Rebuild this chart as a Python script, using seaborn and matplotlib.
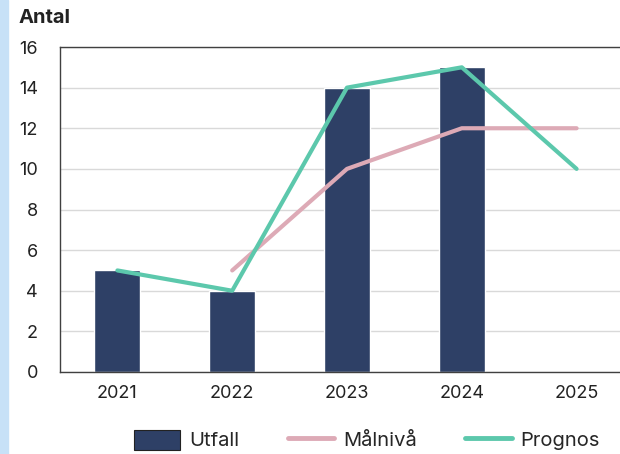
import matplotlib
matplotlib.use('Agg')
import matplotlib.pyplot as plt
import seaborn as sns
import pandas as pd
from matplotlib.patches import Rectangle
from matplotlib.lines import Line2D

# Data
years = ['2021', '2022', '2023', '2024', '2025']
utfall = [5, 4, 14, 15, None]
malniva = [None, 5, 10, 12, 12]
prognos = [5, 4, 14, 15, 10]

df = pd.DataFrame({'År': years, 'Utfall': utfall, 'Målnivå': malniva, 'Prognos': prognos})

sns.set_style('white')
plt.rcParams['font.family'] = ['Inter', 'DejaVu Sans']

fig = plt.figure(figsize=(6.2, 4.54), dpi=100)
ax = fig.add_axes([60 / 620, 82 / 454, 574 / 620, 325 / 454])

# light blue stripe along the left edge
fig.patches.append(Rectangle((0, 0), 8 / 620, 1, transform=fig.transFigure,
                             color='#C7E1F7', zorder=0))

bar_color = '#2E4066'
pink = '#DDAAB6'
teal = '#5CC8AC'

sns.barplot(data=df.dropna(subset=['Utfall']), x='År', y='Utfall', order=years,
            color=bar_color, width=0.4, saturation=1, ax=ax, zorder=2)
x_pos = list(range(len(years)))
ax.plot(x_pos, df['Målnivå'], color=pink, lw=3, solid_capstyle='round', zorder=3)
ax.plot(x_pos, df['Prognos'], color=teal, lw=3, solid_capstyle='round', zorder=4)

ax.set_xlim(-0.5, 4.5)
ax.set_ylim(0, 16)
ax.set_yticks(range(0, 17, 2))
ax.yaxis.grid(True, color='#D9D9D9', lw=1, zorder=0)
ax.set_axisbelow(True)
ax.set_xlabel('')
ax.set_ylabel('')
for s in ['top', 'left', 'bottom']:
    ax.spines[s].set_color('#404040')
    ax.spines[s].set_linewidth(1)
ax.spines['right'].set_visible(False)
ax.tick_params(axis='both', labelsize=13, colors='#222222', length=0)
ax.tick_params(axis='y', pad=16)
ax.tick_params(axis='x', pad=9)

fig.text(19 / 620, 1 - 18 / 454, 'Antal', fontsize=14.5, fontweight='bold',
         color='#222222', va='center', ha='left')

handles = [Rectangle((0, 0), 1, 1, facecolor=bar_color, edgecolor='#222222', lw=0.8),
           Line2D([0], [0], color=pink, lw=3.5),
           Line2D([0], [0], color=teal, lw=3.5)]
fig.legend(handles, ['Utfall', 'Målnivå', 'Prognos'], loc='center',
           bbox_to_anchor=(367 / 620, 1 - 440 / 454), ncol=3, frameon=False,
           fontsize=14.5, handlelength=2.3, handleheight=1.15, columnspacing=2.4,
           handletextpad=0.45)

fig.savefig('out.png', dpi=100)
